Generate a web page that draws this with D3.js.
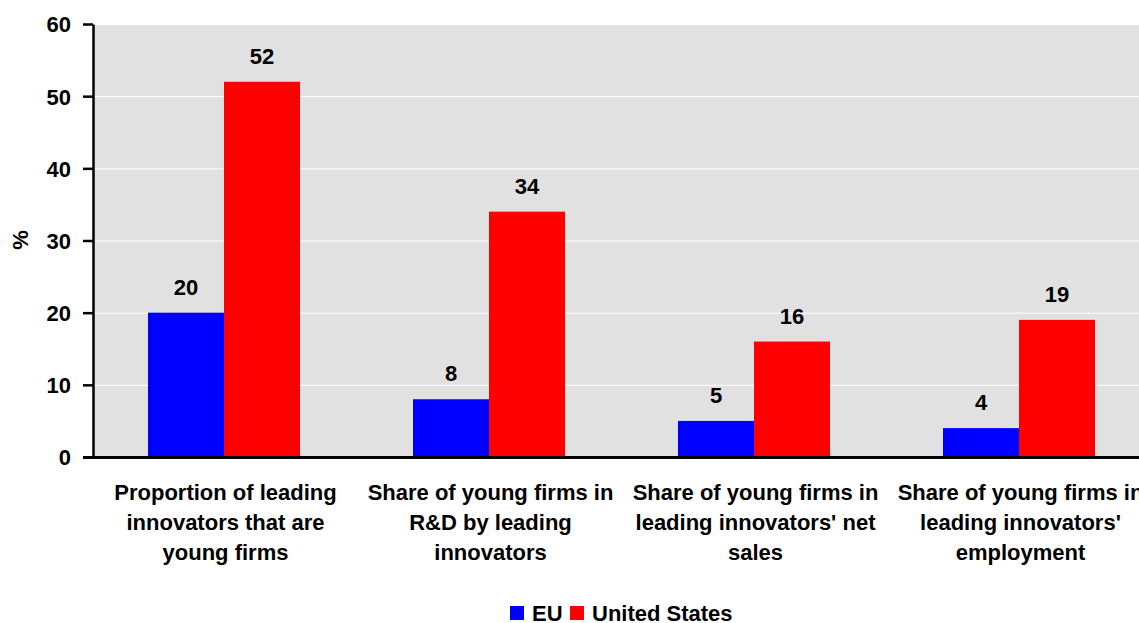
<!DOCTYPE html>
<html>
<head>
<meta charset="utf-8">
<script src="https://cdn.jsdelivr.net/npm/d3@7"></script>
<style>
  html, body { margin: 0; padding: 0; background: #fff; overflow: hidden; }
  svg { display: block; font-family: Arial, "Liberation Sans", sans-serif; font-weight: bold; }
</style>
</head>
<body>
<svg id="chart" width="1139" height="623"></svg>
<script>
// Categories (each one wraps over several lines)
const categories = [
  ["Proportion of leading", "innovators that are", "young firms"],
  ["Share of young firms in", "R&D by leading", "innovators"],
  ["Share of young firms in", "leading innovators' net", "sales"],
  ["Share of young firms in", "leading innovators'", "employment"]
];
const seriesNames = ["EU", "United States"];
const euValues = [20, 8, 5, 4];
const usValues = [52, 34, 16, 19];
const yTicks = [0, 10, 20, 30, 40, 50, 60];
const colors = ["#0000ff", "#ff0000"];

const svg = d3.select("#chart");
const fontSize = 22;
const plotLeft = 93, plotTop = 24, plotBottom = 457, bandW = 265;
const plotRight = plotLeft + bandW * categories.length;

const x = d3.scaleBand().domain(d3.range(categories.length)).range([plotLeft, plotRight]).padding(0);
const y = d3.scaleLinear().domain([0, 60]).range([plotBottom, plotTop]);
const barW = 76;
const sub = d3.scaleBand().domain([0, 1]).range([0, barW * 2]);

// Plot background
svg.append("rect").attr("x", plotLeft).attr("y", plotTop)
  .attr("width", plotRight - plotLeft).attr("height", plotBottom - plotTop).attr("fill", "#e1e1e1");

// Gridlines
svg.append("g").selectAll("line").data(yTicks.filter(d => d > 0)).join("line")
  .attr("x1", plotLeft).attr("x2", plotRight)
  .attr("y1", d => y(d) + 0.5).attr("y2", d => y(d) + 0.5)
  .attr("stroke", "#ffffff").attr("stroke-width", 1);

// Bars and value labels
const series = [euValues, usValues];
const groups = svg.append("g").selectAll("g").data(categories.map((c, i) => i)).join("g")
  .attr("transform", i => `translate(${Math.floor(x(i) + x.bandwidth() / 2 - barW - 1)},0)`);
groups.selectAll("rect").data(i => series.map((s, k) => ({ k, v: s[i] }))).join("rect")
  .attr("x", d => sub(d.k)).attr("width", sub.bandwidth())
  .attr("y", d => y(d.v)).attr("height", d => y(0) - y(d.v))
  .attr("fill", d => colors[d.k]);
groups.selectAll("text").data(i => series.map((s, k) => ({ k, v: s[i] }))).join("text")
  .attr("x", d => sub(d.k) + sub.bandwidth() / 2)
  .attr("y", d => y(d.v) - 18)
  .attr("text-anchor", "middle").attr("font-size", fontSize).attr("fill", "#000")
  .text(d => d.v);

// Y axis
const yAxis = svg.append("g").attr("transform", `translate(${plotLeft},0)`)
  .call(d3.axisLeft(y).tickValues(yTicks).tickSize(10).tickPadding(12).tickSizeOuter(0));
yAxis.select(".domain").attr("stroke", "#000").attr("stroke-width", 2.5);
yAxis.selectAll(".tick line").attr("stroke", "#000").attr("stroke-width", 2.5);
yAxis.selectAll(".tick text").attr("font-size", fontSize).attr("font-family", "Arial, 'Liberation Sans', sans-serif")
  .attr("font-weight", "bold").attr("fill", "#000").attr("dy", "0.36em");

// X axis baseline
svg.append("line").attr("x1", plotLeft - 10).attr("x2", plotRight)
  .attr("y1", y(0) + 0.5).attr("y2", y(0) + 0.5).attr("stroke", "#000").attr("stroke-width", 3);

// Category labels
const catLabels = svg.append("g").selectAll("text").data(categories).join("text")
  .attr("text-anchor", "middle").attr("font-size", fontSize).attr("fill", "#000")
  .attr("x", (d, i) => x(i) + x.bandwidth() / 2);
catLabels.selectAll("tspan").data(d => d).join("tspan")
  .attr("x", function() { return this.parentNode.getAttribute("x"); })
  .attr("y", (d, j) => 500 + j * 30)
  .text(d => d);

// Y axis title
svg.append("text").attr("transform", "translate(28,240) rotate(-90)")
  .attr("text-anchor", "middle").attr("font-size", fontSize).attr("fill", "#000").text("%");

// Legend
const legend = svg.append("g");
const legendItems = [{ name: seriesNames[0], x: 510 }, { name: seriesNames[1], x: 570 }];
legendItems.forEach((it, k) => {
  legend.append("rect").attr("x", it.x).attr("y", 606).attr("width", 14).attr("height", 14).attr("fill", colors[k]);
  legend.append("text").attr("x", it.x + 22).attr("y", 621).attr("font-size", fontSize).attr("fill", "#000").text(it.name);
});
</script>
</body>
</html>
